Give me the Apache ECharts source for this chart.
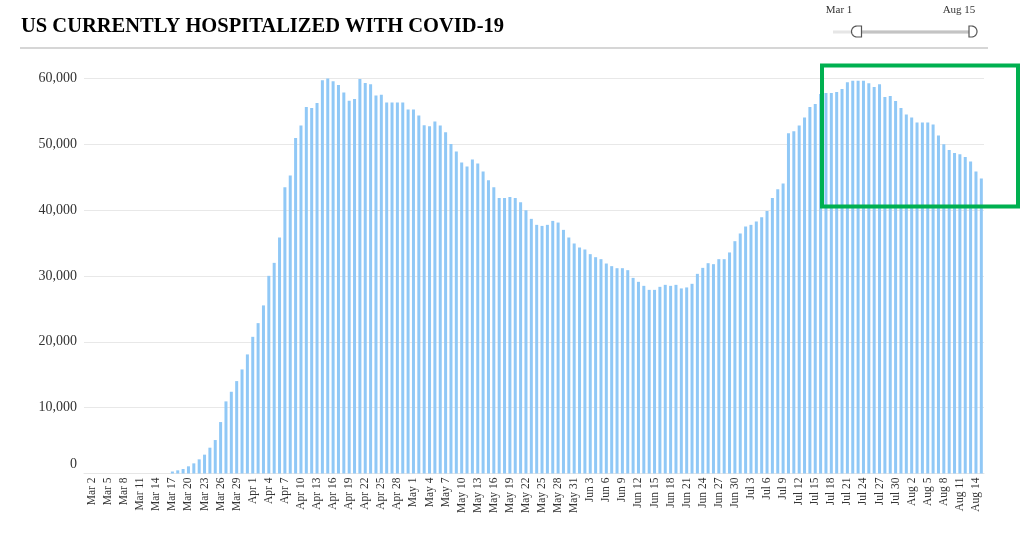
<!DOCTYPE html>
<html>
<head>
<meta charset="utf-8">
<script src="https://cdn.jsdelivr.net/npm/echarts@6/dist/echarts.min.js"></script>
<style>
html,body{margin:0;padding:0;background:#fff;}
#chart{width:1024px;height:537px;}
</style>
</head>
<body>
<div id="chart"></div>
<script>
// ---- data ----
const chartTitle = 'US CURRENTLY HOSPITALIZED WITH COVID-19';
const months = ['Mar', 'Apr', 'May', 'Jun', 'Jul', 'Aug'];
const daysShown = [31, 30, 31, 30, 31, 15];
const categories = [];
months.forEach(function (m, k) {
  for (let d = 1; d <= daysShown[k]; d++) categories.push(m + ' ' + d);
});
const yTicks = [0, 10000, 20000, 30000, 40000, 50000, 60000];
// Currently hospitalized, Mar 1 .. Aug 15
const hospitalized = [
  // Mar 1 - Mar 16
  0, 0, 0, 0, 0, 0, 0, 0, 0, 0, 0, 0, 0, 0, 0, 0,
  // Mar 17 - Mar 31
  300, 480, 680, 1090, 1540, 2150, 2860, 3920, 5080, 7810, 10950, 12410, 14030, 15800, 18080,
  // Apr 1 - Apr 30
  20750, 22830, 25520, 30010, 31980, 35830, 43460, 45240, 50940, 52820, 55640, 55490, 56250, 59700, 59980,
  59540, 58980, 57830, 56610, 56860, 59890, 59280, 59090, 57370, 57520, 56310, 56310, 56310, 56310, 55250,
  // May 1 - May 31
  55250, 54340, 52870, 52710, 53430, 52820, 51800, 50030, 48880, 47210, 46600, 47660, 47060, 45840, 44520,
  43460, 41840, 41840, 41990, 41840, 41190, 39970, 38660, 37750, 37590, 37750, 38350, 38100, 36990, 35830,
  34920,
  // Jun 1 - Jun 30
  34310, 34010, 33300, 32840, 32540, 31880, 31480, 31170, 31170, 30870, 29700, 29100, 28490, 27880, 27880,
  28340, 28640, 28490, 28640, 28100, 28250, 28800, 30310, 31220, 31930, 31780, 32540, 32540, 33560, 35270,
  // Jul 1 - Jul 31
  36440, 37500, 37750, 38260, 38910, 39870, 41840, 43160, 44020, 51650, 51960, 52820, 54040, 55640, 56100,
  57600, 57770, 57770, 57920, 58380, 59390, 59640, 59640, 59640, 59240, 58680, 59090, 57160, 57310, 56550,
  55490,
  // Aug 1 - Aug 15
  54490, 54040, 53280, 53280, 53280, 52980, 51310, 49990, 49120, 48670, 48470, 48060, 47360, 45840, 44780
];

const serif = '"Liberation Serif", "Times New Roman", serif';

// D-shaped slider handle outline (decoration only)
function handlePoints(flatX, cx, cy, r, dir) {
  const pts = [[flatX, cy - r]];
  for (let a = -90; a <= 90; a += 10) {
    const rad = a * Math.PI / 180;
    pts.push([cx + dir * r * Math.cos(rad), cy + r * Math.sin(rad)]);
  }
  pts.push([flatX, cy + r]);
  return pts;
}

const chart = echarts.init(document.getElementById('chart'), null, { renderer: 'canvas' });

chart.setOption({
  animation: false,
  backgroundColor: '#fff',
  title: {
    text: chartTitle,
    left: 16,
    top: 11,
    textStyle: { fontFamily: serif, fontWeight: 'bold', fontSize: 20.5, color: '#000' }
  },
  grid: { left: 84, right: 40, top: 78.3, bottom: 63.5, containLabel: false },
  xAxis: {
    type: 'category',
    data: categories,
    boundaryGap: true,
    axisLine: { show: true, lineStyle: { color: '#e6e6e6', width: 1 } },
    axisTick: { show: false },
    axisLabel: {
      rotate: 90,
      margin: 4,
      interval: function (idx) { return idx % 3 === 1; },
      fontFamily: serif,
      fontSize: 11.5,
      color: '#333'
    },
    splitLine: { show: false }
  },
  yAxis: {
    type: 'value',
    min: yTicks[0],
    max: yTicks[yTicks.length - 1],
    interval: yTicks[1] - yTicks[0],
    axisLine: { show: false },
    axisTick: { show: false },
    splitLine: { show: true, lineStyle: { color: '#e8e8e8', width: 1 } },
    axisLabel: {
      margin: 7,
      fontFamily: serif,
      fontSize: 14,
      color: '#333',
      formatter: function (v) { return v === 0 ? '{z|0}' : v.toLocaleString('en-US'); },
      rich: { z: { fontFamily: serif, fontSize: 14, color: '#333', padding: [0, 0, 18, 0] } }
    }
  },
  series: [{
    type: 'bar',
    data: hospitalized,
    barCategoryGap: '44%',
    itemStyle: { color: '#90c8f6' }
  }],
  graphic: [
    { type: 'line', shape: { x1: 20, y1: 48, x2: 988, y2: 48 }, style: { stroke: '#c8c8c8', lineWidth: 1.5 }, silent: true },
    { type: 'rect', shape: { x: 833, y: 30.5, width: 139, height: 3 }, style: { fill: '#e6e6e6' }, silent: true },
    { type: 'rect', shape: { x: 857, y: 30.5, width: 115, height: 3 }, style: { fill: '#c4c4c4' }, silent: true },
    { type: 'polygon', shape: { points: handlePoints(861.5, 857, 31.5, 5.5, -1) }, style: { fill: '#fff', stroke: '#555', lineWidth: 1.2 }, silent: true },
    { type: 'polygon', shape: { points: handlePoints(969, 971.5, 31.5, 5.5, 1) }, style: { fill: '#fff', stroke: '#555', lineWidth: 1.2 }, silent: true },
    { type: 'text', x: 839, y: 10, style: { text: categories[0], fontFamily: serif, fontSize: 11, fill: '#333', align: 'center', verticalAlign: 'middle' }, silent: true },
    { type: 'text', x: 959, y: 10, style: { text: categories[categories.length - 1], fontFamily: serif, fontSize: 11, fill: '#333', align: 'center', verticalAlign: 'middle' }, silent: true },
    { type: 'rect', z: 100, shape: { x: 822, y: 65.5, width: 196, height: 141 }, style: { fill: 'none', stroke: '#00b050', lineWidth: 4 }, silent: true }
  ]
});
</script>
</body>
</html>
